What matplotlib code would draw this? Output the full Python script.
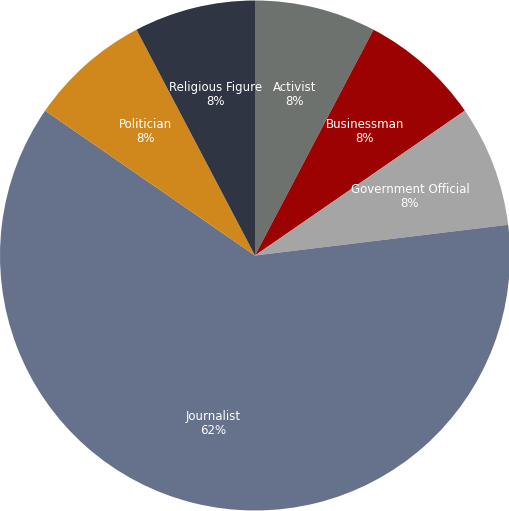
import matplotlib
matplotlib.use("Agg")
import matplotlib.pyplot as plt

labels = ["Activist", "Businessman", "Government Official", "Journalist", "Politician", "Religious Figure"]
counts = [1, 1, 1, 8, 1, 1]
colors = ["#6e726f", "#9c0202", "#a5a5a5", "#66728c", "#d0881c", "#2f3543"]

fig = plt.figure(figsize=(5.10, 5.11), dpi=100)
ax = fig.add_axes([0, 0, 1, 1])
total = sum(counts)
wedges, texts = ax.pie(counts, colors=colors, startangle=90, counterclock=False,
                       radius=1.0, wedgeprops=dict(linewidth=0))
import numpy as np
for w, lab, c in zip(wedges, labels, counts):
    ang = np.deg2rad((w.theta1 + w.theta2) / 2)
    r = 0.65 if c < 8 else 0.68
    pct = round(100 * c / total)
    ax.text(r * np.cos(ang), r * np.sin(ang), f"{lab}\n{pct}%", ha="center", va="center",
            color="white", fontsize=8.5, fontfamily="DejaVu Sans", linespacing=1.1)
ax.set_xlim(-1.0, 1.0)
ax.set_ylim(-1.0, 1.0)
ax.set_aspect("equal")
ax.axis("off")
fig.savefig("out.png", dpi=100)
